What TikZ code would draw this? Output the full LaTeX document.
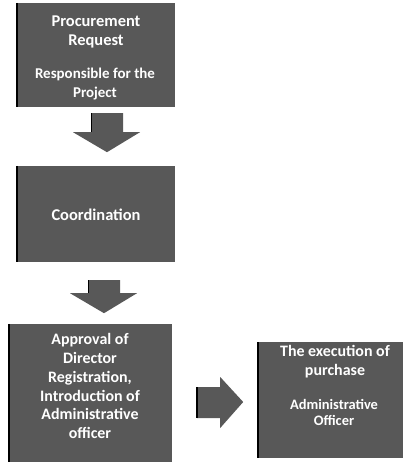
\documentclass[tikz,border=0pt]{standalone}
\usepackage{fontspec}
\setmainfont{Carlito}
\usetikzlibrary{calc}
\definecolor{boxgray}{HTML}{585858}
\tikzset{
  stepbox/.style={fill=boxgray, draw=none, inner sep=0pt},
  ttl/.style={text=white, align=center, inner sep=0pt, font=\bfseries\fontsize{16.5}{19.5}\selectfont},
  sbt/.style={text=white, align=center, inner sep=0pt, font=\bfseries\fontsize{15}{17}\selectfont},
  blockarrow/.style={fill=boxgray, draw=none},
  leftedge/.style={draw=black, line width=1.6bp},
}
\begin{document}
\begin{tikzpicture}[x=1bp,y=-1bp]
\useasboundingbox (0,0) rectangle (406,464);
% boxes
\node[stepbox, minimum width=158bp, minimum height=104bp] (b1) at (96,55) {};
\node[stepbox, minimum width=158bp, minimum height=96bp] (b2) at (96,214) {};
\node[stepbox, minimum width=163bp, minimum height=138bp] (b3) at (90.5,393) {};
\node[stepbox, minimum width=145bp, minimum height=116bp] (b4) at (330.5,400) {};
\foreach \b in {b1,b2,b3,b4} \draw[leftedge] (\b.north west) -- (\b.south west);
% texts
\node[ttl] (t1) at (96,32) {Procurement\\Request};
\node[sbt, font=\bfseries\fontsize{15}{19}\selectfont] (t1b) at (95,84) {Responsible for the\\Project};
\node[ttl] (t2) at (96,215) {Coordination};
\node[ttl, font=\bfseries\fontsize{16}{19}\selectfont] (t3) at (90,386) {Approval of\\Director\\Registration,\\Introduction of\\Administrative\\officer};
\node[ttl, font=\bfseries\fontsize{16}{19}\selectfont] (t4) at (335,362) {The execution of\\purchase};
\node[sbt, font=\bfseries\fontsize{14.5}{16}\selectfont] (t4b) at (334,412) {Administrative\\Officer};
% arrows
\coordinate (a1) at ($(b1.south)+(11,0)$);
\draw[blockarrow] ($(a1)+(-16,6)$) -- ($(a1)+(16,6)$) -- ($(a1)+(16,25)$) -- ($(a1)+(33,25)$) -- ($(a1)+(0,45)$) -- ($(a1)+(-34,25)$) -- ($(a1)+(-16,25)$) -- cycle;
\draw[leftedge, line width=1bp] ($(a1)+(-16,6)$) -- ($(a1)+(-16,25)$);
\coordinate (a2) at ($(b2.south)+(8,0)$);
\draw[blockarrow] ($(a2)+(-16,18)$) -- ($(a2)+(16,18)$) -- ($(a2)+(16,31)$) -- ($(a2)+(33,31)$) -- ($(a2)+(0,51)$) -- ($(a2)+(-34,31)$) -- ($(a2)+(-16,31)$) -- cycle;
\draw[leftedge, line width=1bp] ($(a2)+(-16,18)$) -- ($(a2)+(-16,31)$);
\coordinate (a3) at ($(b3.east)+(0,9)$);
\draw[blockarrow] ($(a3)+(25,-15)$) -- ($(a3)+(48,-15)$) -- ($(a3)+(48,-25)$) -- ($(a3)+(71,0)$) -- ($(a3)+(48,26)$) -- ($(a3)+(48,16)$) -- ($(a3)+(25,16)$) -- cycle;
\draw[leftedge, line width=1.5bp] ($(a3)+(25,-15)$) -- ($(a3)+(25,16)$);
\end{tikzpicture}
\end{document}
